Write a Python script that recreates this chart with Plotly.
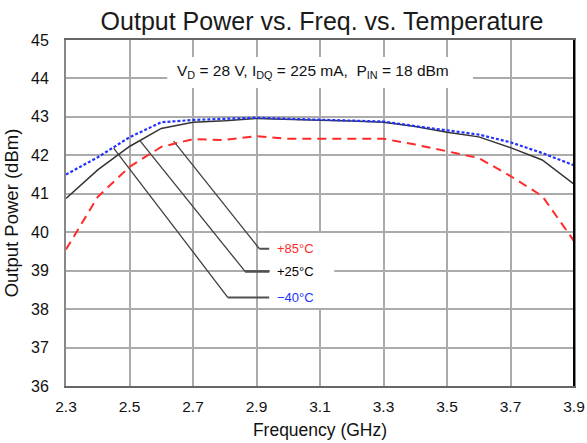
import plotly.graph_objects as go

# ---- data ----
freq_ghz = [2.3, 2.4, 2.5, 2.6, 2.7, 2.8, 2.9, 3.0, 3.1, 3.2, 3.3, 3.4, 3.5, 3.6, 3.7, 3.8, 3.9]
pout_p85 = [39.55, 40.92, 41.70, 42.22, 42.42, 42.40, 42.50, 42.43, 42.43, 42.43, 42.43, 42.28, 42.10, 41.93, 41.46, 40.94, 39.77]
pout_p25 = [40.88, 41.62, 42.23, 42.70, 42.86, 42.90, 42.96, 42.93, 42.91, 42.89, 42.86, 42.75, 42.60, 42.48, 42.20, 41.88, 41.25]
pout_m40 = [41.50, 41.95, 42.47, 42.86, 42.92, 42.95, 42.98, 42.95, 42.93, 42.91, 42.88, 42.76, 42.65, 42.54, 42.34, 42.06, 41.74]

series_names = ["+85°C", "+25°C", "−40°C"]
x_ticks = [2.3, 2.5, 2.7, 2.9, 3.1, 3.3, 3.5, 3.7, 3.9]
y_ticks = [36, 37, 38, 39, 40, 41, 42, 43, 44, 45]

# callout leaders: start on curve -> elbow -> label
lead_start_x = [2.639, 2.534, 2.450]
lead_start_y = [42.37, 42.37, 42.19]
lead_elbow_x = [2.909, 2.864, 2.810]
lead_label_y = [39.57, 38.98, 38.30]
lead_end_x = 2.94
label_x = 2.958

FONT = "Liberation Sans, Arial, sans-serif"
colors = ["#ff2a2a", "#333333", "#2233ff"]
dashes = ["9px,6px", "solid", "3px,2px"]
widths = [2, 1.5, 2.2]
series = [pout_p85, pout_p25, pout_m40]

fig = go.Figure()

# leaders
for i in range(3):
    fig.add_trace(go.Scatter(x=[lead_start_x[i], lead_elbow_x[i]], y=[lead_start_y[i], lead_label_y[i]],
                             mode="lines", line=dict(color="#404040", width=1.3),
                             hoverinfo="skip", showlegend=False))
    fig.add_trace(go.Scatter(x=[lead_elbow_x[i], lead_end_x], y=[lead_label_y[i], lead_label_y[i]],
                             mode="lines", line=dict(color="#505050", width=2.6 if i == 1 else 2.0),
                             hoverinfo="skip", showlegend=False))

# curves
for i in [1, 0, 2]:
    fig.add_trace(go.Scatter(x=freq_ghz, y=series[i], mode="lines", name=series_names[i],
                             line=dict(color=colors[i], dash=dashes[i], width=widths[i]),
                             showlegend=False))

# white boxes behind texts (between gridlines and traces)
fig.add_shape(type="rect", x0=2.619, x1=3.582, y0=43.75, y1=44.56, xref="x", yref="y",
              fillcolor="white", line=dict(width=0), layer="between")
fig.add_shape(type="rect", x0=2.943, x1=3.145, y0=38.03, y1=39.98, xref="x", yref="y",
              fillcolor="white", line=dict(width=0), layer="between")

fig.add_annotation(x=3.079, y=44.17, xref="x", yref="y", showarrow=False,
                   text="V<sub>D</sub> = 28 V, I<sub>DQ</sub> = 225 mA,  P<sub>IN</sub> = 18 dBm",
                   font=dict(family=FONT, size=15.5, color="#111111"))

for i in range(3):
    fig.add_annotation(x=label_x, y=lead_label_y[i], xref="x", yref="y", showarrow=False,
                       xanchor="left", text=series_names[i],
                       font=dict(family=FONT, size=13, color=colors[i] if i != 1 else "#000000"))

# right border black
fig.add_shape(type="line", x0=1, x1=1, y0=0, y1=1, xref="paper", yref="paper",
              line=dict(color="#000000", width=2), layer="above")

fig.update_layout(
    width=587, height=443,
    margin=dict(l=65.5, r=13, t=40, b=57, autoexpand=False),
    paper_bgcolor="white", plot_bgcolor="white",
    title=dict(text="Output Power vs. Freq. vs. Temperature", x=322 / 587, xanchor="center",
               xref="container", yref="container",
               y=1 - 21 / 443, yanchor="middle", font=dict(family=FONT, size=25, color="#1a1a1a")),
    font=dict(family=FONT, color="#111111"),
    xaxis=dict(range=[2.3, 3.9], tickvals=x_ticks, ticktext=[f"{v:.1f}" for v in x_ticks],
               automargin=False,
               showgrid=True, gridcolor="#ababab", gridwidth=2,
               showline=True, linecolor="#666666", linewidth=2, mirror=True,
               ticks="", tickfont=dict(size=15.5, family=FONT), ticklabelstandoff=5,
               title=dict(text="Frequency (GHz)", font=dict(size=17.5, family=FONT), standoff=10),
               zeroline=False),
    yaxis=dict(range=[36, 45], tickvals=y_ticks,
               automargin=False,
               showgrid=True, gridcolor="#ababab", gridwidth=2,
               showline=True, linecolor="#888888", linewidth=2, mirror=True,
               ticks="", tickfont=dict(size=16, family=FONT), ticklabelstandoff=12,
               title=dict(text="Output Power (dBm)", font=dict(size=18.5, family=FONT), standoff=8),
               zeroline=False),
)

# remove the default 8px page margin so the figure fills the window exactly
fig.write_html("out.html", config={"displayModeBar": False},
               post_script="document.body.style.margin='0px';")
